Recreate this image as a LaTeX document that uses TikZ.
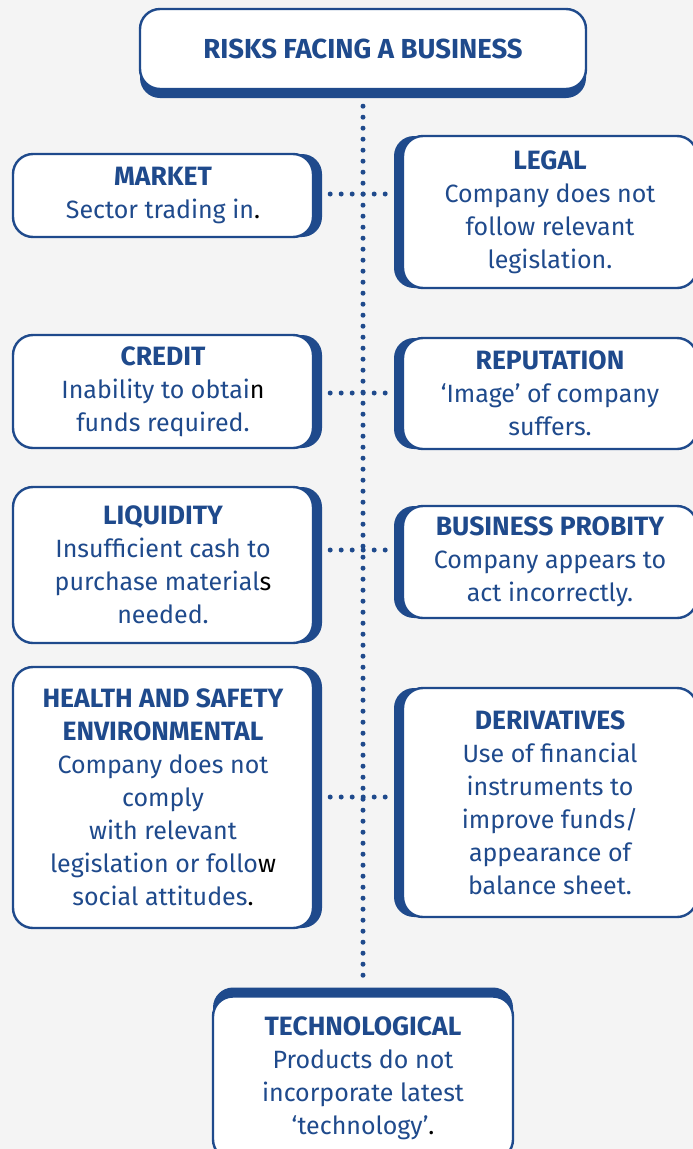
\documentclass[tikz,border=0pt]{standalone}
\usepackage{fontspec}
\setmainfont{Fira Sans}
\usetikzlibrary{shadows}

\definecolor{riskblue}{HTML}{1F4A8C}
\definecolor{paper}{HTML}{F4F4F4}

\tikzset{
  riskbox/.style={draw=riskblue, line width=2.4pt, fill=white, rounded corners=20pt,
    text=riskblue, align=center, inner sep=0pt, minimum width=300pt,
    font=\fontsize{25}{33}\selectfont},
  toright/.style={general shadow={fill=riskblue, shadow xshift=9pt}},
  toleft/.style={general shadow={fill=riskblue, shadow xshift=-9pt}},
  todown/.style={general shadow={fill=riskblue, shadow yshift=-9pt}},
  toup/.style={general shadow={fill=riskblue, shadow yshift=9pt}},
  dots/.style={riskblue, line width=5pt, line cap=round, dash pattern=on 0pt off 11pt}
}
\newcommand{\head}[1]{{\fontsize{26.5}{33}\selectfont\bfseries #1}}
\newcommand{\blk}[1]{\textcolor{black}{#1}}

\begin{document}
\begin{tikzpicture}[x=1pt, y=-1pt]
    % sfondo e margini
    \clip (0,0) rectangle (693,1149);
    \fill[paper] (0,0) rectangle (693,1149);

    % --- titolo ---
    \node[riskbox, todown, minimum width=446pt, minimum height=80pt] (title) at (363,49)
        {\fontsize{27.5}{33}\selectfont\bfseries RISKS FACING A BUSINESS};

    % --- colonna sinistra ---
    \node[riskbox, toright, minimum height=83pt] (market) at (163,195.5)
        {\head{MARKET}\\Sector trading in\blk{.}};
    \node[riskbox, toright, minimum height=113pt] (credit) at (163,391.5)
        {\head{CREDIT}\\Inability to obtai\blk{n}\\funds required.};
    \node[riskbox, toright, minimum height=156pt] (liquidity) at (163,565)
        {\head{LIQUIDITY}\\Insufficient cash to\\purchase material\blk{s}\\needed.};
    \node[riskbox, toright, minimum height=261pt] (health) at (163,797.5)
        {\head{HEALTH AND SAFETY}\\\head{ENVIRONMENTAL}\\Company does not\\comply\\with relevant\\legislation or follo\blk{w}\\social attitudes\blk{.}};

    % --- colonna destra ---
    \node[riskbox, toleft, minimum width=294pt, minimum height=152pt] (legal) at (550,212)
        {\head{LEGAL}\\Company does not\\follow relevant\\legislation.};
    \node[riskbox, toleft, minimum width=294pt, minimum height=111pt] (reputation) at (550,393.5)
        {\head{REPUTATION}\\`Image' of company\\suffers.};
    \node[riskbox, toleft, minimum width=294pt, minimum height=112pt] (probity) at (550,562)
        {\head{BUSINESS PROBITY}\\Company appears to\\act incorrectly.};
    \node[riskbox, toleft, minimum width=294pt, minimum height=229pt] (derivatives) at (550,802.5)
        {\head{DERIVATIVES}\\Use of financial\\instruments to\\improve funds/\\appearance of\\balance sheet.};

    % --- in basso ---
    \node[riskbox, toup, minimum height=163pt] (techno) at (363,1078)
        {\head{TECHNOLOGICAL}\\Products do not\\incorporate latest\\`technology'\blk{.}};

    % punti di incrocio sulla linea centrale
    \coordinate (j1) at (363,194);
    \coordinate (j2) at (363,393);
    \coordinate (j3) at (363,550);
    \coordinate (j4) at (363,797);

    % linea verticale punteggiata
    \draw[dots, shorten <=16pt, shorten >=14pt] (title.south) -- (techno.north);

    % collegamenti orizzontali
    \draw[dots, shorten <=16pt, shorten >=8pt] (market.east |- j1) -- (legal.west |- j1);
    \draw[dots, shorten <=16pt, shorten >=8pt] (credit.east |- j2) -- (reputation.west |- j2);
    \draw[dots, shorten <=16pt, shorten >=8pt] (liquidity.east |- j3) -- (probity.west |- j3);
    \draw[dots, shorten <=16pt, shorten >=8pt] (health.east |- j4) -- (derivatives.west |- j4);
\end{tikzpicture}
\end{document}
